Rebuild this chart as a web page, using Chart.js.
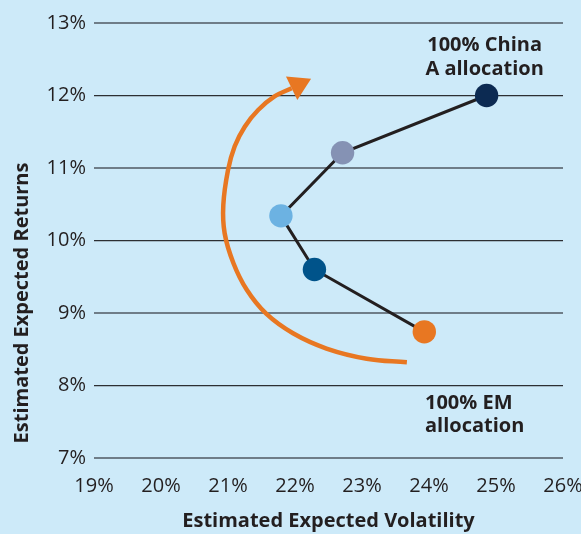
<!DOCTYPE html>
<html>
<head>
<meta charset="utf-8">
<script src="https://cdn.jsdelivr.net/npm/chart.js@4"></script>
<style>
  html, body { margin: 0; padding: 0; background: #cdeaf9; }
  #wrap { width: 581px; height: 534px; }
</style>
</head>
<body>
<div id="wrap"><canvas id="riskChart" width="581" height="534"></canvas></div>
<script>
// portfolio points, from 100% EM up to 100% China A
const volatility = [23.93, 22.29, 21.79, 22.71, 24.86];
const returns = [8.74, 9.60, 10.34, 11.21, 12.00];
const pointColors = ['#e87722', '#00538a', '#6cb2e2', '#8592b4', '#0c2a52'];

// the orange arrow (tail -> head)
const arcVol = [23.67, 23.07, 22.47, 21.97, 21.57, 21.28, 21.08, 20.95, 20.93, 21.00, 21.10, 21.25, 21.45, 21.70, 21.95];
const arcRet = [8.32, 8.37, 8.51, 8.72, 8.99, 9.32, 9.69, 10.10, 10.49, 10.97, 11.30, 11.57, 11.80, 11.99, 12.10];
const arrowTip = [22.24, 12.23];

// text labels: [x, y] in data units
const chinaLabel = ['100% China', 'A allocation'];
const chinaPos = [24.83, 12.686];
const emLabel = ['100% EM', 'allocation'];
const emPos = [23.94, 7.76];

const xMin = 19, xMax = 26;
const yMin = 7, yMax = 13;

const textColor = '#231f20';
const font = "'Open Sans', sans-serif";

const mainData = volatility.map((v, i) => ({ x: v, y: returns[i] }));
const arcData = arcVol.map((v, i) => ({ x: v, y: arcRet[i] }));

const extras = {
    id: 'extras',
    afterDatasetsDraw(chart) {
        const { ctx, scales: { x, y } } = chart;

        // arrow head
        const last = arcData[arcData.length - 1];
        const bx = x.getPixelForValue(last.x), by = y.getPixelForValue(last.y);
        const tx = x.getPixelForValue(arrowTip[0]), ty = y.getPixelForValue(arrowTip[1]);
        const ang = Math.atan2(ty - by, tx - bx);
        const half = 13;
        ctx.save();
        ctx.fillStyle = '#e87722';
        ctx.beginPath();
        ctx.moveTo(tx, ty);
        ctx.lineTo(bx + Math.cos(ang + Math.PI / 2) * half, by + Math.sin(ang + Math.PI / 2) * half);
        ctx.lineTo(bx - Math.cos(ang + Math.PI / 2) * half, by - Math.sin(ang + Math.PI / 2) * half);
        ctx.closePath();
        ctx.fill();

        // labels
        ctx.fillStyle = textColor;
        ctx.font = "bold 20px " + font;
        ctx.textBaseline = 'middle';
        ctx.textAlign = 'center';
        let lx = x.getPixelForValue(chinaPos[0]), ly = y.getPixelForValue(chinaPos[1]);
        chinaLabel.forEach((t, i) => ctx.fillText(t, lx, ly + i * 23.5));
        ctx.textAlign = 'left';
        lx = x.getPixelForValue(emPos[0]); ly = y.getPixelForValue(emPos[1]);
        emLabel.forEach((t, i) => ctx.fillText(t, lx, ly + i * 23.5));

        // y axis title
        ctx.translate(22, 303);
        ctx.rotate(-Math.PI / 2);
        ctx.textAlign = 'center';
        ctx.fillText('Estimated Expected Returns', 0, 0);
        ctx.restore();
    }
};

const ctx = document.getElementById('riskChart');

new Chart(ctx, {
    type: 'scatter',
    data: {
        datasets: [
            {
                data: arcData,
                showLine: true,
                borderColor: '#e87722',
                borderWidth: 4.5,
                tension: 0.4,
                pointRadius: 0
            },
            {
                data: mainData,
                showLine: true,
                borderColor: '#231f20',
                borderWidth: 3,
                pointRadius: 11.7,
                pointHoverRadius: 11.7,
                pointBorderWidth: 0,
                pointBackgroundColor: pointColors
            }
        ]
    },
    options: {
        responsive: false,
        animation: false,
        layout: { padding: { left: 0, top: 23, right: 18, bottom: 0 } },
        plugins: {
            legend: { display: false },
            tooltip: { enabled: false }
        },
        scales: {
            x: {
                min: xMin,
                max: xMax,
                grid: { display: false, drawTicks: false },
                border: { display: false },
                ticks: {
                    stepSize: 1,
                    padding: 16,
                    maxRotation: 0,
                    color: textColor,
                    font: { family: font, size: 20 },
                    callback: v => v + '%'
                },
                title: {
                    display: true,
                    text: 'Estimated Expected Volatility',
                    color: textColor,
                    font: { family: font, size: 20, weight: 'bold' },
                    padding: { top: 0, bottom: 1 }
                },
                afterFit(scale) {
                    scale.height = 76;
                    scale.paddingLeft = 0;
                    scale.paddingRight = 0;
                }
            },
            y: {
                min: yMin,
                max: yMax,
                grid: {
                    // odd lines look softer/wider in the original
                    color: c => c.tick && c.tick.value % 2 ? '#6f7d88' : '#2c2f33',
                    lineWidth: c => c.tick && c.tick.value % 2 ? 2 : 1.2,
                    drawTicks: false
                },
                border: { display: false },
                ticks: {
                    stepSize: 1,
                    padding: 8,
                    color: textColor,
                    font: { family: font, size: 20 },
                    callback: v => v + '%'
                },
                afterFit(scale) {
                    scale.width = 94;
                    scale.paddingTop = 0;
                    scale.paddingBottom = 0;
                }
            }
        }
    },
    plugins: [extras]
});
</script>
</body>
</html>
